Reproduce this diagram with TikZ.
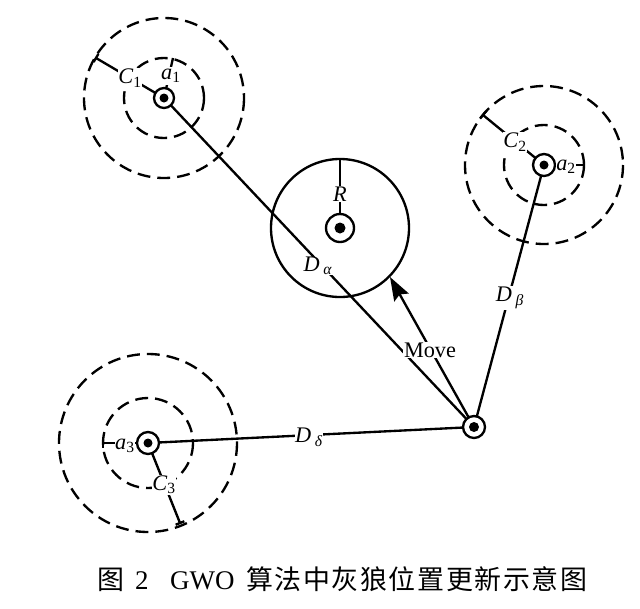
\documentclass[tikz,border=0pt]{standalone}
\usepackage{fontspec}
\setmainfont{Liberation Serif}
\newfontfamily\cjk[LetterSpace=6]{Noto Sans CJK SC}
\newfontfamily\cjkplain{Noto Sans CJK SC}
\usetikzlibrary{arrows.meta,calc}
\begin{document}
\begin{tikzpicture}[x=0.03cm,y=-0.03cm,
  line width=2pt,
  dashcirc/.style={dash pattern=on 11pt off 6pt},
  lbl/.style={fill=white,inner sep=0.5pt,font=\fontsize{19}{22}\selectfont},
  captxt/.style={anchor=base west,inner sep=0pt},
  tickmark/.style={line width=2pt}]
\useasboundingbox (0,0) rectangle (640,608);

% wolf positions
\coordinate (A1) at (164,98);
\coordinate (A2) at (544,165);
\coordinate (A3) at (148,443);
\coordinate (P) at (340,228);
\coordinate (W) at (474,427);

% radius end points
\coordinate (C1e) at (96,58);
\coordinate (a1e) at (173,58);
\coordinate (C2e) at (483,115);
\coordinate (a2e) at (583,165);
\coordinate (a3e) at (103,443);
\coordinate (C3e) at (180,523);
\coordinate (Re) at (340,159);
\coordinate (Mv) at (390,277);

% dashed circles
\draw[dashcirc] (A1) circle[radius=80];
\draw[dashcirc] (A1) circle[radius=40];
\draw[dashcirc] (A2) circle[radius=79];
\draw[dashcirc] (A2) circle[radius=40];
\draw[dashcirc] (A3) circle[radius=89];
\draw[dashcirc] (A3) circle[radius=45];
\draw (P) circle[radius=69];

% radius lines
\draw (A1) -- (C1e);
\draw (A1) -- (a1e);
\draw (A2) -- (C2e);
\draw (A2) -- (a2e);
\draw (A3) -- (a3e);
\draw (A3) -- (C3e);
\draw (P) -- (Re);

% ticks
\draw[tickmark] ($(C1e)!4pt!90:(A1)$) -- ($(C1e)!4pt!-90:(A1)$);
\draw[tickmark] ($(C2e)!4pt!90:(A2)$) -- ($(C2e)!4pt!-90:(A2)$);
\draw[tickmark] ($(a3e)!4pt!90:(A3)$) -- ($(a3e)!4pt!-90:(A3)$);
\draw[tickmark] ($(C3e)!4pt!90:(A3)$) -- ($(C3e)!4pt!-90:(A3)$);

% distance lines
\draw (A1) -- (W);
\draw (A2) -- (W);
\draw (A3) -- (W);
\draw[-{Stealth[length=20pt,width=14pt,inset=3pt]}] (W) -- (Mv);

% small circles and dots
\foreach \c/\r in {A1/10,A2/11,A3/11,W/11,P/14}{
  \draw[fill=white] (\c) circle[radius=\r];
}
\foreach \c/\r in {A1/4.5,A2/4.5,A3/4.5,W/5,P/5.5}{
  \fill (\c) circle[radius=\r];
}

% labels
\node[lbl] (lC1) at (130,78) {\textit{C}\textsubscript{1}};
\node[lbl,inner sep=2pt] (la1) at (171,76) {\textit{a}\textsubscript{1}};
\node[lbl] (lC2) at (515,142) {\textit{C}\textsubscript{2}};
\node[lbl] (la2) at (566,167) {\textit{a}\textsubscript{2}};
\node[lbl] (la3) at (125,446) {\textit{a}\textsubscript{3}};
\node[lbl] (lC3) at (164,485) {\textit{C}\textsubscript{3}};
\node[lbl] (lR) at (340,194) {\textit{R}};
\node[lbl] (lDa) at (318,266) {\textit{D}\,\textsubscript{\textit{α}}};
\node[lbl] (lDb) at (510,298) {\textit{D}\,\textsubscript{\textit{β}}};
\node[lbl] (lDd) at (309,437) {\textit{D}\,\textsubscript{\textit{δ}}};
\node[lbl] (lMv) at (430,350) {Move};

% caption
\node[captxt,font=\cjkplain\fontsize{23}{26}\selectfont] (cap1) at (96,589) {图};
\node[captxt,font=\fontsize{23}{26}\selectfont] (cap2) at (134,589) {2};
\node[captxt,font=\fontsize{23}{26}\selectfont] (cap3) at (169,589) {GWO};
\node[captxt,font=\cjk\fontsize{23}{26}\selectfont] (cap4) at (245,589) {算法中灰狼位置更新示意图};
\end{tikzpicture}
\end{document}
